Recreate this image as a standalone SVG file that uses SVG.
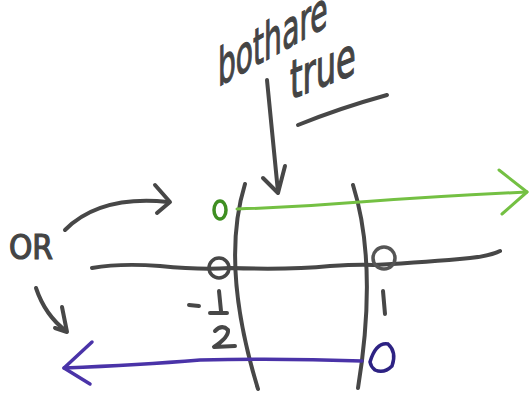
<svg xmlns="http://www.w3.org/2000/svg" width="530" height="393" viewBox="0 0 530 393">
<style>
.ink{fill:none;stroke:#474747;stroke-width:4;stroke-linecap:round;stroke-linejoin:round}
.hand{font-family:"DejaVu Sans Condensed","DejaVu Sans",sans-serif;fill:#444;stroke:#444;stroke-width:1.2}
.green{fill:none;stroke:#74c043;stroke-width:3;stroke-linecap:round;stroke-linejoin:round}
.purple{fill:none;stroke:#4a33a8;stroke-width:3.5;stroke-linecap:round;stroke-linejoin:round}
</style>
<rect width="530" height="393" fill="#fff"/>
<g id="label-both">
<text class="hand" font-size="52" word-spacing="-14" transform="translate(218,87) skewY(-29) scale(0.6,1)">both are</text>
<text class="hand" font-size="54" transform="translate(290,100) skewY(-22) scale(0.66,1)">true</text>
<path class="ink" d="M298,125 Q340,108 387,95" stroke-width="5"/>
</g>
<g id="label-or">
<text class="hand" font-size="33" x="9" y="259" stroke-width="1.5">OR</text>
</g>
<g id="connectors">
<path class="ink" d="M267,80 Q272,130 278,192"/>
<path class="ink" d="M263,178 L278,193 L285,166"/>
<path class="ink" d="M65,230 Q100,195 168,202"/>
<path class="ink" d="M155,185 L170,202 L157,213"/>
<path class="ink" d="M36,288 Q45,315 66,331"/>
<path class="ink" d="M62,307 L67,332 L55,328"/>
</g>
<g id="number-line">
<path class="ink" d="M92,268 Q120,263 160,266 Q200,270 230,268 Q290,270 330,266 Q360,264 374,265 Q430,262 470,258 Q490,256 500,251"/>
<path class="ink" d="M245,184 Q220,265 258,389"/>
<path class="ink" d="M353,185 Q378,265 358,388"/>
</g>
<g id="point-neg-half">
<circle cx="219" cy="268" r="10" fill="none" stroke="#474747" stroke-width="3.5"/>
<path class="ink" d="M189,305 L199,306 M219,291 L221,311 M210,313 L227,313"/>
<path class="ink" d="M215,331 Q222,324 228,330 Q229,337 214,347 L235,346"/>
</g>
<g id="point-one">
<circle cx="384" cy="258" r="11" fill="none" stroke="#555" stroke-width="3.5"/>
<path class="ink" d="M383,291 L385,314"/>
</g>
<g id="ray-green">
<path class="green" d="M237,209 Q300,207 360,202 Q440,196 527,192"/>
<path class="green" d="M499,170 L527,192 L502,214"/>
<ellipse cx="220" cy="210" rx="6" ry="9" fill="none" stroke="#3f8f22" stroke-width="3.5"/>
</g>
<g id="ray-purple">
<path class="purple" d="M64,368 Q140,365 200,360 Q280,358 362,361"/>
<path class="purple" d="M92,342 L64,368 L90,384"/>
<path d="M370,362 Q376,342 388,344 Q397,352 392,366 Q384,374 375,370 Q371,367 370,362 Z" fill="none" stroke="#2d2283" stroke-width="3.5"/>
</g>
</svg>
